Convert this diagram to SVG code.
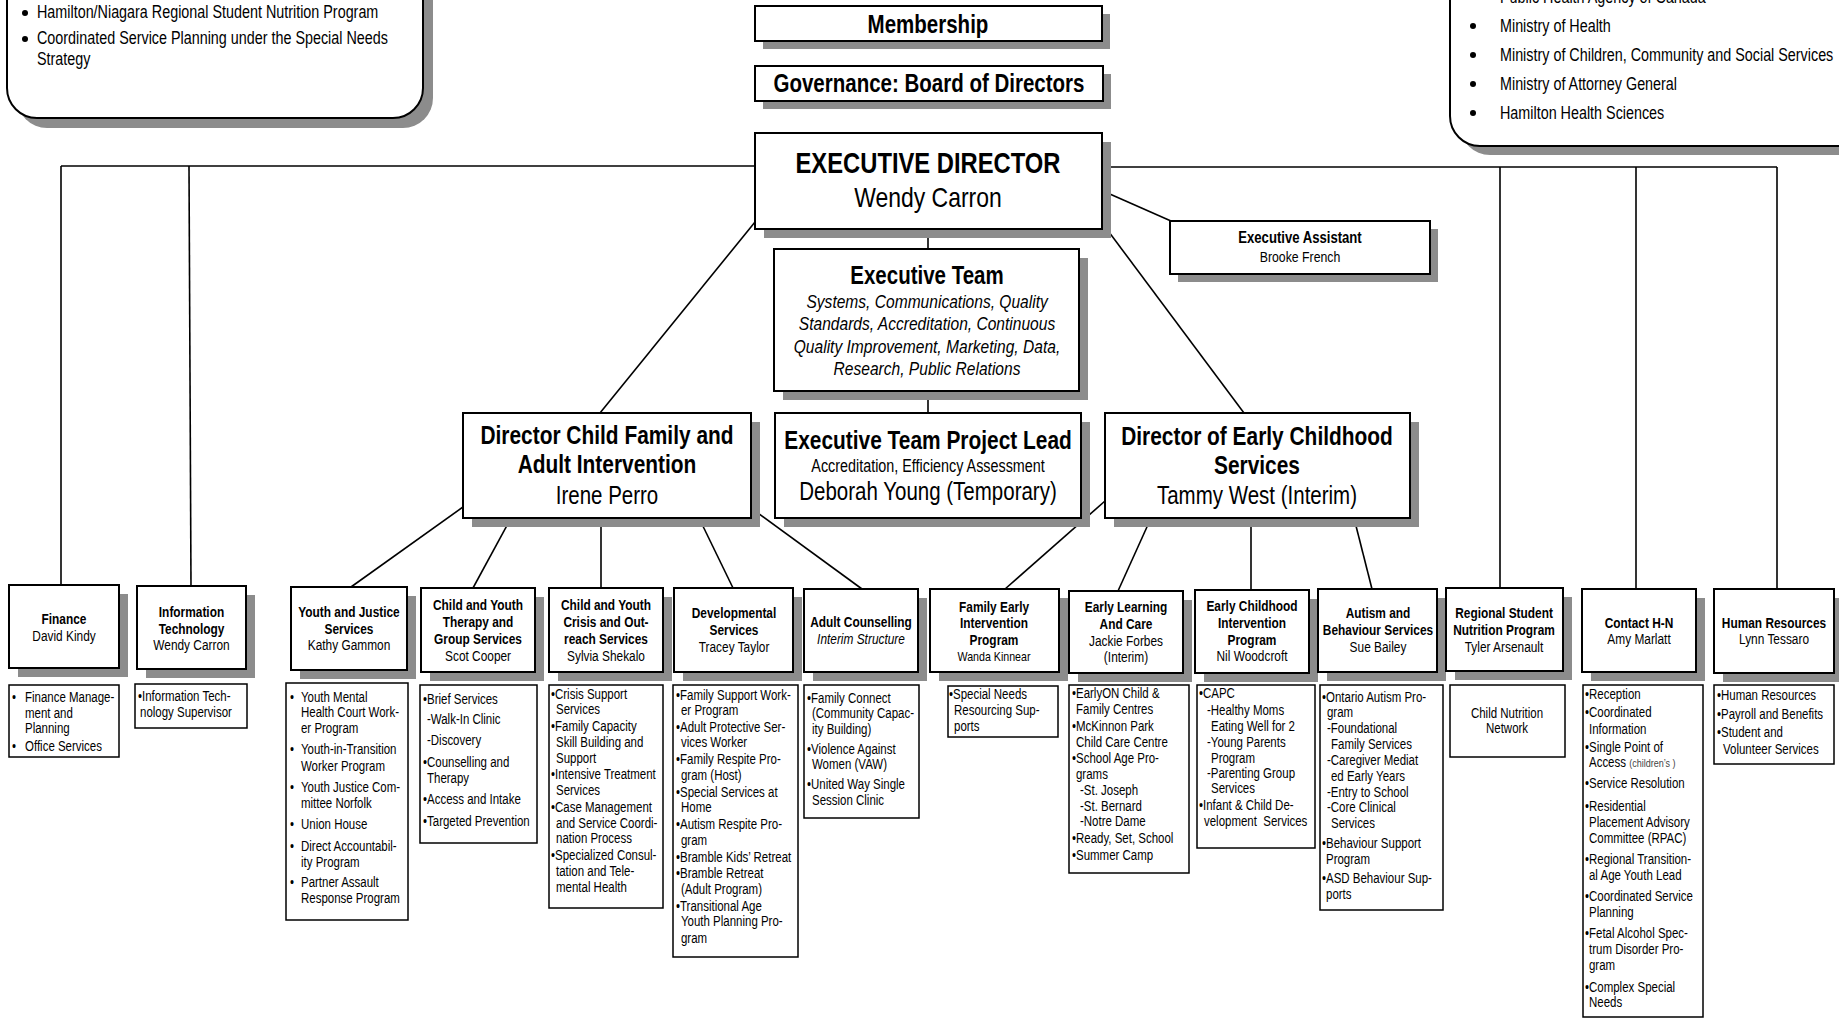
<svg xmlns="http://www.w3.org/2000/svg" width="1839" height="1021" viewBox="0 0 1839 1021">
<style>
text { font-family: "Liberation Sans", Arial, sans-serif; fill: #000; transform-box: fill-box; transform-origin: 0% 50%; transform: scaleX(0.82); }
text.c { transform-origin: 50% 50%; }
.c { text-anchor: middle; }
.b { font-weight: bold; }
.i { font-style: italic; }
.h { font-size: 14.5px; }
.l { font-size: 14px; }
.tp { font-size: 17.5px; }
.sh { fill: #8c8c8c; }
.bx { fill: #fff; stroke: #000; stroke-width: 2; }
.lb { fill: #fff; stroke: #000; stroke-width: 1.5; }
.rb { fill: #fff; stroke: #000; stroke-width: 2; }
#connectors line { stroke: #000; stroke-width: 1.6; }
</style>
<rect width="1839" height="1021" fill="#fff"/>

<g id="connectors">
  <line x1="61" y1="166" x2="755" y2="166"/>
  <line x1="1102" y1="167" x2="1777" y2="167"/>
  <line x1="61" y1="166" x2="61" y2="585"/>
  <line x1="189" y1="166" x2="191" y2="586"/>
  <line x1="1500" y1="167" x2="1500" y2="588"/>
  <line x1="1636" y1="167" x2="1636" y2="589"/>
  <line x1="1777" y1="167" x2="1777" y2="589"/>
  <line x1="1103" y1="191" x2="1171" y2="221"/>
  <line x1="928" y1="229" x2="928" y2="249"/>
  <line x1="928" y1="391" x2="928" y2="413"/>
  <line x1="755" y1="222" x2="600" y2="413"/>
  <line x1="1103" y1="224" x2="1244" y2="413"/>
  <line x1="463" y1="507" x2="351" y2="587"/>
  <line x1="511" y1="518" x2="473" y2="588"/>
  <line x1="601" y1="518" x2="601" y2="588"/>
  <line x1="699" y1="518" x2="733" y2="588"/>
  <line x1="751" y1="508" x2="862" y2="589"/>
  <line x1="1105" y1="501" x2="1005" y2="589"/>
  <line x1="1151" y1="518" x2="1118" y2="591"/>
  <line x1="1251" y1="518" x2="1251" y2="590"/>
  <line x1="1354" y1="518" x2="1372" y2="589"/>
</g>

<g id="funding-left">
  <rect class="sh" x="17" y="-30" width="416" height="158" rx="30"/>
  <rect class="rb" x="7" y="-40" width="416" height="158" rx="30"/>
  <circle cx="25" cy="13" r="3"/>
  <text class="tp" x="37" y="18">Hamilton/Niagara Regional Student Nutrition Program</text>
  <circle cx="25" cy="39" r="3"/>
  <text class="tp" x="37" y="44">Coordinated Service Planning under the Special Needs</text>
  <text class="tp" x="37" y="65">Strategy</text>
</g>

<g id="funding-right">
  <rect class="sh" x="1460" y="-30" width="450" height="185" rx="30"/>
  <rect class="rb" x="1450" y="-40" width="450" height="186" rx="30"/>
  <circle cx="1473" cy="-3" r="3"/>
  <text class="tp" x="1500" y="3">Public Health Agency of Canada</text>
  <circle cx="1473" cy="26" r="3"/>
  <text class="tp" x="1500" y="32">Ministry of Health</text>
  <circle cx="1473" cy="55" r="3"/>
  <text class="tp" x="1500" y="61">Ministry of Children, Community and Social Services</text>
  <circle cx="1473" cy="84" r="3"/>
  <text class="tp" x="1500" y="90">Ministry of Attorney General</text>
  <circle cx="1473" cy="113" r="3"/>
  <text class="tp" x="1500" y="119">Hamilton Health Sciences</text>
</g>

<g id="membership">
  <rect class="sh" x="763" y="14" width="347" height="35"/>
  <rect class="bx" x="755" y="6" width="347" height="35"/>
  <text class="c b" x="928" y="33" font-size="25">Membership</text>
</g>

<g id="governance">
  <rect class="sh" x="763" y="74" width="348" height="35"/>
  <rect class="bx" x="755" y="66" width="348" height="35"/>
  <text class="c b" x="929" y="92.5" font-size="25">Governance: Board of Directors</text>
</g>

<g id="executive-director">
  <rect class="sh" x="764" y="142" width="347" height="96"/>
  <rect class="bx" x="755" y="133" width="347" height="96"/>
  <text class="c b" x="928" y="173" font-size="29">EXECUTIVE DIRECTOR</text>
  <text class="c" x="928" y="207" font-size="28">Wendy Carron</text>
</g>

<g id="executive-assistant">
  <rect class="sh" x="1178" y="229" width="260" height="53"/>
  <rect class="bx" x="1170" y="221" width="260" height="53"/>
  <text class="c b" x="1300" y="243" font-size="16">Executive Assistant</text>
  <text class="c" x="1300" y="262" font-size="15">Brooke French</text>
</g>

<g id="executive-team">
  <rect class="sh" x="783" y="258" width="305" height="142"/>
  <rect class="bx" x="774" y="249" width="305" height="142"/>
  <text class="c b" x="927" y="284" font-size="25">Executive Team</text>
  <text class="c i" x="927" y="308" font-size="19">Systems, Communications, Quality</text>
  <text class="c i" x="927" y="330.5" font-size="19">Standards, Accreditation, Continuous</text>
  <text class="c i" x="927" y="353" font-size="19">Quality Improvement, Marketing, Data,</text>
  <text class="c i" x="927" y="375" font-size="19">Research, Public Relations</text>
</g>

<g id="project-lead">
  <rect class="sh" x="784" y="422" width="306" height="105"/>
  <rect class="bx" x="775" y="413" width="306" height="105"/>
  <text class="c b" x="928" y="449" font-size="25.5">Executive Team Project Lead</text>
  <text class="c" x="928" y="472" font-size="17.5">Accreditation, Efficiency Assessment</text>
  <text class="c" x="928" y="500.5" font-size="25">Deborah Young (Temporary)</text>
</g>

<g id="director-cfai">
  <rect class="sh" x="472" y="422" width="288" height="105"/>
  <rect class="bx" x="463" y="413" width="288" height="105"/>
  <text class="c b" x="607" y="444" font-size="25.5">Director Child Family and</text>
  <text class="c b" x="607" y="473.5" font-size="25.5">Adult Intervention</text>
  <text class="c" x="607" y="504" font-size="25">Irene Perro</text>
</g>

<g id="director-ecs">
  <rect class="sh" x="1114" y="422" width="305" height="105"/>
  <rect class="bx" x="1105" y="413" width="305" height="105"/>
  <text class="c b" x="1257" y="445" font-size="25.5">Director of Early Childhood</text>
  <text class="c b" x="1257" y="474.5" font-size="25.5">Services</text>
  <text class="c" x="1257" y="504" font-size="25">Tammy West (Interim)</text>
</g>

<g id="finance">
  <rect class="sh" x="18" y="594" width="110" height="83"/>
  <rect class="bx" x="9" y="585" width="110" height="83"/>
  <text class="c b h" x="64" y="624">Finance</text>
  <text class="c h" x="64" y="641">David Kindy</text>
  <rect class="lb" x="9" y="685" width="110" height="72"/>
  <text class="l" x="12" y="702">•</text>
  <text class="l" x="25" y="702">Finance Manage-</text>
  <text class="l" x="25" y="718">ment and</text>
  <text class="l" x="25" y="733">Planning</text>
  <text class="l" x="12" y="751">•</text>
  <text class="l" x="25" y="751">Office Services</text>
</g>

<g id="information-technology">
  <rect class="sh" x="146" y="595" width="109" height="83"/>
  <rect class="bx" x="137" y="586" width="109" height="83"/>
  <text class="c b h" x="191.5" y="617">Information</text>
  <text class="c b h" x="191.5" y="634">Technology</text>
  <text class="c h" x="191.5" y="650">Wendy Carron</text>
  <rect class="lb" x="135" y="684" width="112" height="44"/>
  <text class="l" x="138" y="701">•Information Tech-</text>
  <text class="l" x="140" y="717">nology Supervisor</text>
</g>

<g id="youth-justice">
  <rect class="sh" x="300" y="596" width="116" height="83"/>
  <rect class="bx" x="291" y="587" width="116" height="83"/>
  <text class="c b h" x="349" y="617">Youth and Justice</text>
  <text class="c b h" x="349" y="634">Services</text>
  <text class="c h" x="349" y="650">Kathy Gammon</text>
  <rect class="lb" x="286" y="683" width="122" height="237"/>
  <text class="l" x="290" y="702">•</text><text class="l" x="301" y="702">Youth Mental</text>
  <text class="l" x="301" y="717">Health Court Work-</text>
  <text class="l" x="301" y="733">er Program</text>
  <text class="l" x="290" y="754">•</text><text class="l" x="301" y="754">Youth-in-Transition</text>
  <text class="l" x="301" y="771">Worker Program</text>
  <text class="l" x="290" y="792">•</text><text class="l" x="301" y="792">Youth Justice Com-</text>
  <text class="l" x="301" y="808">mittee Norfolk</text>
  <text class="l" x="290" y="829">•</text><text class="l" x="301" y="829">Union House</text>
  <text class="l" x="290" y="851">•</text><text class="l" x="301" y="851">Direct Accountabil-</text>
  <text class="l" x="301" y="867">ity Program</text>
  <text class="l" x="290" y="887">•</text><text class="l" x="301" y="887">Partner Assault</text>
  <text class="l" x="301" y="903">Response Program</text>
</g>

<g id="therapy-group">
  <rect class="sh" x="430" y="597" width="114" height="84"/>
  <rect class="bx" x="421" y="588" width="114" height="84"/>
  <text class="c b h" x="478" y="610">Child and Youth</text>
  <text class="c b h" x="478" y="627">Therapy and</text>
  <text class="c b h" x="478" y="644">Group Services</text>
  <text class="c h" x="478" y="661">Scot Cooper</text>
  <rect class="lb" x="420" y="685" width="117" height="158"/>
  <text class="l" x="423" y="704">•Brief Services</text>
  <text class="l" x="427" y="724">-Walk-In Clinic</text>
  <text class="l" x="427" y="745">-Discovery</text>
  <text class="l" x="423" y="767">•Counselling and</text>
  <text class="l" x="427" y="783">Therapy</text>
  <text class="l" x="423" y="804">•Access and Intake</text>
  <text class="l" x="423" y="826">•Targeted Prevention</text>
</g>

<g id="crisis-outreach">
  <rect class="sh" x="558" y="597" width="114" height="84"/>
  <rect class="bx" x="549" y="588" width="114" height="84"/>
  <text class="c b h" x="606" y="610">Child and Youth</text>
  <text class="c b h" x="606" y="627">Crisis and Out-</text>
  <text class="c b h" x="606" y="644">reach Services</text>
  <text class="c h" x="606" y="661">Sylvia Shekalo</text>
  <rect class="lb" x="549" y="685" width="114" height="223"/>
  <text class="l" x="551" y="699">•Crisis Support</text>
  <text class="l" x="556" y="714">Services</text>
  <text class="l" x="551" y="731">•Family Capacity</text>
  <text class="l" x="556" y="747">Skill Building and</text>
  <text class="l" x="556" y="763">Support</text>
  <text class="l" x="551" y="779">•Intensive Treatment</text>
  <text class="l" x="556" y="795">Services</text>
  <text class="l" x="551" y="812">•Case Management</text>
  <text class="l" x="556" y="828">and Service Coordi-</text>
  <text class="l" x="556" y="843">nation Process</text>
  <text class="l" x="551" y="860">•Specialized Consul-</text>
  <text class="l" x="556" y="876">tation and Tele-</text>
  <text class="l" x="556" y="892">mental Health</text>
</g>

<g id="developmental">
  <rect class="sh" x="683" y="597" width="119" height="84"/>
  <rect class="bx" x="674" y="588" width="119" height="84"/>
  <text class="c b h" x="734" y="618">Developmental</text>
  <text class="c b h" x="734" y="635">Services</text>
  <text class="c h" x="734" y="652">Tracey Taylor</text>
  <rect class="lb" x="673" y="685" width="125" height="272"/>
  <text class="l" x="676" y="700">•Family Support Work-</text>
  <text class="l" x="681" y="715">er Program</text>
  <text class="l" x="676" y="732">•Adult Protective Ser-</text>
  <text class="l" x="681" y="747">vices Worker</text>
  <text class="l" x="676" y="764">•Family Respite Pro-</text>
  <text class="l" x="681" y="780">gram (Host)</text>
  <text class="l" x="676" y="797">•Special Services at</text>
  <text class="l" x="681" y="812">Home</text>
  <text class="l" x="676" y="829">•Autism Respite Pro-</text>
  <text class="l" x="681" y="845">gram</text>
  <text class="l" x="676" y="862">•Bramble Kids’ Retreat</text>
  <text class="l" x="676" y="878">•Bramble Retreat</text>
  <text class="l" x="681" y="894">(Adult Program)</text>
  <text class="l" x="676" y="911">•Transitional Age</text>
  <text class="l" x="681" y="926">Youth Planning Pro-</text>
  <text class="l" x="681" y="943">gram</text>
</g>

<g id="adult-counselling">
  <rect class="sh" x="813" y="598" width="114" height="83"/>
  <rect class="bx" x="804" y="589" width="114" height="83"/>
  <text class="c b h" x="861" y="627">Adult Counselling</text>
  <text class="c i h" x="861" y="644">Interim Structure</text>
  <rect class="lb" x="804" y="685" width="115" height="133"/>
  <text class="l" x="807" y="703">•Family Connect</text>
  <text class="l" x="812" y="718">(Community Capac-</text>
  <text class="l" x="812" y="734">ity Building)</text>
  <text class="l" x="807" y="754">•Violence Against</text>
  <text class="l" x="812" y="769">Women (VAW)</text>
  <text class="l" x="807" y="789">•United Way Single</text>
  <text class="l" x="812" y="805">Session Clinic</text>
</g>

<g id="family-early-intervention">
  <rect class="sh" x="939" y="598" width="129" height="83"/>
  <rect class="bx" x="930" y="589" width="129" height="83"/>
  <text class="c b h" x="994" y="612">Family Early</text>
  <text class="c b h" x="994" y="628">Intervention</text>
  <text class="c b h" x="994" y="645">Program</text>
  <text class="c" x="994" y="661" font-size="13">Wanda Kinnear</text>
  <rect class="lb" x="948" y="686" width="110" height="51"/>
  <text class="l" x="949" y="699">•Special Needs</text>
  <text class="l" x="954" y="715">Resourcing Sup-</text>
  <text class="l" x="954" y="731">ports</text>
</g>

<g id="early-learning">
  <rect class="sh" x="1078" y="600" width="114" height="82"/>
  <rect class="bx" x="1069" y="591" width="114" height="82"/>
  <text class="c b h" x="1126" y="612.5">Early Learning</text>
  <text class="c b h" x="1126" y="629">And Care</text>
  <text class="c h" x="1126" y="646">Jackie Forbes</text>
  <text class="c h" x="1126" y="662">(Interim)</text>
  <rect class="lb" x="1069" y="685" width="120" height="188"/>
  <text class="l" x="1072" y="698">•EarlyON Child &amp;</text>
  <text class="l" x="1076" y="714">Family Centres</text>
  <text class="l" x="1072" y="731">•McKinnon Park</text>
  <text class="l" x="1076" y="747">Child Care Centre</text>
  <text class="l" x="1072" y="763">•School Age Pro-</text>
  <text class="l" x="1076" y="779">grams</text>
  <text class="l" x="1080" y="795">-St. Joseph</text>
  <text class="l" x="1080" y="811">-St. Bernard</text>
  <text class="l" x="1080" y="826">-Notre Dame</text>
  <text class="l" x="1072" y="843">•Ready, Set, School</text>
  <text class="l" x="1072" y="860">•Summer Camp</text>
</g>

<g id="early-childhood-intervention">
  <rect class="sh" x="1204" y="599" width="114" height="83"/>
  <rect class="bx" x="1195" y="590" width="114" height="83"/>
  <text class="c b h" x="1252" y="611">Early Childhood</text>
  <text class="c b h" x="1252" y="628">Intervention</text>
  <text class="c b h" x="1252" y="645">Program</text>
  <text class="c h" x="1252" y="661">Nil Woodcroft</text>
  <rect class="lb" x="1197" y="685" width="118" height="163"/>
  <text class="l" x="1199" y="698">•CAPC</text>
  <text class="l" x="1207" y="715">-Healthy Moms</text>
  <text class="l" x="1211" y="731">Eating Well for 2</text>
  <text class="l" x="1207" y="747">-Young Parents</text>
  <text class="l" x="1211" y="763">Program</text>
  <text class="l" x="1207" y="778">-Parenting Group</text>
  <text class="l" x="1211" y="793">Services</text>
  <text class="l" x="1199" y="810">•Infant &amp; Child De-</text>
  <text class="l" x="1204" y="826" xml:space="preserve">velopment  Services</text>
</g>

<g id="autism-behaviour">
  <rect class="sh" x="1327" y="598" width="119" height="83"/>
  <rect class="bx" x="1318" y="589" width="119" height="83"/>
  <text class="c b h" x="1378" y="618">Autism and</text>
  <text class="c b h" x="1378" y="635">Behaviour Services</text>
  <text class="c h" x="1378" y="652">Sue Bailey</text>
  <rect class="lb" x="1320" y="685" width="123" height="225"/>
  <text class="l" x="1322" y="702">•Ontario Autism Pro-</text>
  <text class="l" x="1327" y="717">gram</text>
  <text class="l" x="1327" y="733">-Foundational</text>
  <text class="l" x="1331" y="749">Family Services</text>
  <text class="l" x="1327" y="765">-Caregiver Mediat</text>
  <text class="l" x="1331" y="781">ed Early Years</text>
  <text class="l" x="1327" y="797">-Entry to School</text>
  <text class="l" x="1327" y="812">-Core Clinical</text>
  <text class="l" x="1331" y="828">Services</text>
  <text class="l" x="1322" y="848">•Behaviour Support</text>
  <text class="l" x="1326" y="864">Program</text>
  <text class="l" x="1322" y="883">•ASD Behaviour Sup-</text>
  <text class="l" x="1326" y="899">ports</text>
</g>

<g id="regional-student-nutrition">
  <rect class="sh" x="1455" y="597" width="117" height="83"/>
  <rect class="bx" x="1446" y="588" width="117" height="83"/>
  <text class="c b h" x="1504" y="618">Regional Student</text>
  <text class="c b h" x="1504" y="635">Nutrition Program</text>
  <text class="c h" x="1504" y="652">Tyler Arsenault</text>
  <rect class="lb" x="1450" y="685" width="115" height="72"/>
  <text class="c l" x="1507" y="718">Child Nutrition</text>
  <text class="c l" x="1507" y="733">Network</text>
</g>

<g id="contact-hn">
  <rect class="sh" x="1591" y="598" width="114" height="83"/>
  <rect class="bx" x="1582" y="589" width="114" height="83"/>
  <text class="c b h" x="1639" y="628">Contact H-N</text>
  <text class="c h" x="1639" y="644">Amy Marlatt</text>
  <rect class="lb" x="1583" y="685" width="120" height="332"/>
  <text class="l" x="1585" y="699">•Reception</text>
  <text class="l" x="1585" y="717">•Coordinated</text>
  <text class="l" x="1589" y="734">Information</text>
  <text class="l" x="1585" y="752">•Single Point of</text>
  <text class="l" x="1589" y="767">Access <tspan font-size="11" fill="#444">(children’s )</tspan></text>
  <text class="l" x="1585" y="788">•Service Resolution</text>
  <text class="l" x="1585" y="811">•Residential</text>
  <text class="l" x="1589" y="827">Placement Advisory</text>
  <text class="l" x="1589" y="843">Committee (RPAC)</text>
  <text class="l" x="1585" y="864">•Regional Transition-</text>
  <text class="l" x="1589" y="880">al Age Youth Lead</text>
  <text class="l" x="1585" y="901">•Coordinated Service</text>
  <text class="l" x="1589" y="917">Planning</text>
  <text class="l" x="1585" y="938">•Fetal Alcohol Spec-</text>
  <text class="l" x="1589" y="954">trum Disorder Pro-</text>
  <text class="l" x="1589" y="970">gram</text>
  <text class="l" x="1585" y="992">•Complex Special</text>
  <text class="l" x="1589" y="1007">Needs</text>
</g>

<g id="human-resources">
  <rect class="sh" x="1723" y="598" width="120" height="84"/>
  <rect class="bx" x="1714" y="589" width="120" height="84"/>
  <text class="c b h" x="1774" y="628">Human Resources</text>
  <text class="c h" x="1774" y="644">Lynn Tessaro</text>
  <rect class="lb" x="1714" y="685" width="120" height="79"/>
  <text class="l" x="1717" y="700">•Human Resources</text>
  <text class="l" x="1717" y="719">•Payroll and Benefits</text>
  <text class="l" x="1717" y="737">•Student and</text>
  <text class="l" x="1723" y="754">Volunteer Services</text>
</g>
</svg>
